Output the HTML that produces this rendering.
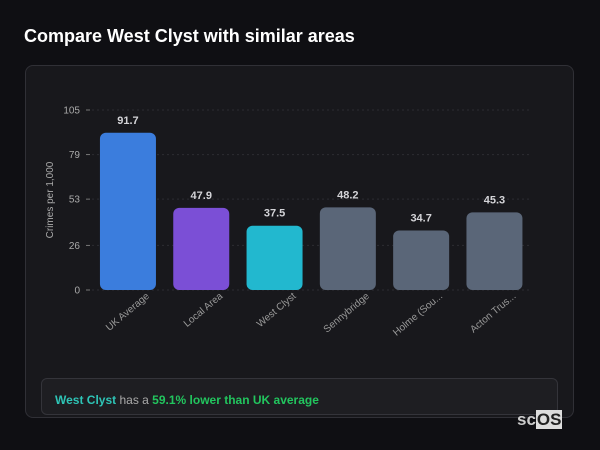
<!DOCTYPE html>
<html><head><meta charset="utf-8"><style>
body{margin:0;width:600px;height:450px;background:#0f0f13;font-family:"Liberation Sans","DejaVu Sans",sans-serif;overflow:hidden;position:relative}
.title{position:absolute;left:24px;top:26px;color:#fff;font-size:18px;font-weight:bold}
.card{position:absolute;left:25px;top:65px;width:549px;height:353px;background:#18181c;border:1px solid #303036;border-radius:8px;box-sizing:border-box}
.insight{position:absolute;left:41px;top:378px;width:517px;height:37px;background:#1e1e22;border:1px solid #34343a;border-radius:6px;box-sizing:border-box;font-size:12px;color:#aaa;line-height:42px;padding-left:13px}
.logo{position:absolute;left:517px;top:410px;font-size:17px;font-weight:bold;color:#ccc}
.logo span{background:#ddd;color:#222;padding:0 1px}
</style></head><body>
<div class="title">Compare West Clyst with similar areas</div>
<div class="card"></div>
<svg id="chart" width="600" height="450" style="position:absolute;left:0;top:0"></svg>
<div class="insight"><b style="color:#2ec4b6">West Clyst</b> has a <b style="color:#22c55e">59.1% lower than UK average</b></div>
<div class="logo">sc<span>OS</span></div>
<script>
const categories=["UK Average","Local Area","West Clyst","Sennybridge","Holme (Sou...","Acton Trus..."];
const values=[91.7,47.9,37.5,48.2,34.7,45.3];
const colors=["#3b7ddd","#7b4fd6","#22b8cf","#5a6678","#5a6678","#5a6678"];
const ticks=[0,26,53,79,105];
const svg=document.getElementById('chart');
const NS='http://www.w3.org/2000/svg';
const y0=290,y1=110,ymax=105,x0=91.3,step=73.3,bw=56;
const y=v=>y0-(v/ymax)*(y0-y1);
const xc=i=>x0+step*(i+0.5);
function mk(t,a){const e=document.createElementNS(NS,t);for(const k in a)e.setAttribute(k,a[k]);svg.appendChild(e);return e;}
const yt=mk('text',{x:0,y:0,transform:'translate(53,200) rotate(-90)','text-anchor':'middle','font-size':10,fill:'#aaa'});
yt.textContent='Crimes per 1,000';


ticks.forEach(t=>{
 const g=mk('line',{x1:92,x2:530,y1:y(t),y2:y(t),stroke:'#2c2c32','stroke-dasharray':'2,3'});
 
 
 mk('line',{x1:86,x2:90,y1:y(t),y2:y(t),stroke:'#777'});
 const l=mk('text',{x:80,y:y(t)+3.5,'text-anchor':'end','font-size':10,fill:'#aaa'});
 l.textContent=t;
 
 
});
categories.forEach((c,i)=>{
 const b=mk('rect',{x:xc(i)-bw/2,y:y(values[i]),width:bw,height:y0-y(values[i]),rx:6,fill:colors[i]});
 
 
 const v=mk('text',{x:xc(i),y:y(values[i])-9,'text-anchor':'middle','font-size':11,'font-weight':'bold',fill:'#d4d4d8'});
 v.textContent=values[i];
 
 
 const l=mk('text',{x:0,y:0,transform:`translate(${xc(i)+22},${y0+7}) rotate(-40)`,'text-anchor':'end','font-size':10,fill:'#999'});
 l.textContent=c;
 
 
});
</script>
</body></html>
